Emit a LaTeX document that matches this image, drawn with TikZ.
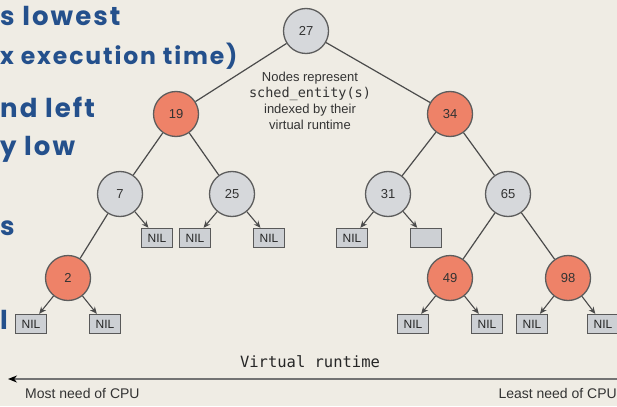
\documentclass[tikz,border=0pt]{standalone}
\usepackage{fontspec}
\setmainfont{Liberation Sans}
\newfontfamily\bluefont{Poppins}[LetterSpace=8]
\newfontfamily\monofont{DejaVu Sans Mono}
\usetikzlibrary{arrows.meta}
\definecolor{bgc}{RGB}{239,236,228}
\definecolor{bluetxt}{RGB}{36,80,140}
\definecolor{redn}{RGB}{238,130,104}
\definecolor{grayn}{RGB}{214,216,219}
\definecolor{edgec}{RGB}{75,75,75}
\definecolor{nilfill}{RGB}{205,208,212}
\tikzset{
  rb/.style={circle, minimum size=45pt, inner sep=0pt, line width=1.3pt, draw=edgec!90, font=\fontsize{13}{14}\selectfont, text=black!80},
  rednode/.style={rb, fill=redn},
  graynode/.style={rb, fill=grayn},
  nilbox/.style={rectangle, minimum width=31pt, minimum height=19pt, inner sep=0pt, fill=nilfill, draw=black!65, line width=1.3pt, font=\fontsize{12}{12}\selectfont, text=black!85},
  tree/.style={draw=edgec, line width=1.2pt},
  nilarrow/.style={draw=edgec, line width=1.1pt, -{Stealth[length=7pt,width=6pt]}},
  bluetext/.style={anchor=base west, inner sep=0pt, text=bluetxt},
}
\begin{document}
\begin{tikzpicture}[x=1pt,y=-1pt]
\useasboundingbox (0,0) rectangle (617,406);
\fill[bgc] (0,0) rectangle (617,406);
\clip (0,0) rectangle (617,406);

% left blue text
\node[bluetext, font=\bluefont\bfseries\fontsize{26}{30}\selectfont] (t1) at (0,26) {s lowest};
\node[bluetext, font=\bluefont\bfseries\fontsize{23.5}{26}\selectfont] (t2) at (0,65) {x execution time)};
\node[bluetext, font=\bluefont\bfseries\fontsize{26}{30}\selectfont] (t3) at (0,118) {nd left};
\node[bluetext, font=\bluefont\bfseries\fontsize{26}{30}\selectfont] (t4) at (0,155) {y low};
\node[bluetext, font=\bluefont\bfseries\fontsize{26}{30}\selectfont] (t5) at (0,235) {s};
\node[bluetext, font=\bluefont\bfseries\fontsize{26}{30}\selectfont] (t6) at (0,329) {l};

% tree nodes
\node[graynode] (n27) at (306,31) {27};
\node[rednode] (n19) at (176,114) {19};
\node[rednode] (n34) at (450,114) {34};
\node[graynode] (n7) at (120,194) {7};
\node[graynode] (n25) at (232,194) {25};
\node[graynode] (n31) at (388,194) {31};
\node[graynode] (n65) at (508,194) {65};
\node[rednode] (n2) at (68,278) {2};
\node[rednode] (n49) at (450,278) {49};
\node[rednode] (n98) at (568,278) {98};

% NIL boxes
\node[nilbox] (a1) at (157,238) {NIL};
\node[nilbox] (a2) at (195,238) {NIL};
\node[nilbox] (a3) at (269,238) {NIL};
\node[nilbox] (a4) at (352,238) {NIL};
\node[nilbox] (a5) at (426,238) {};
\node[nilbox] (b1) at (31,324) {NIL};
\node[nilbox] (b2) at (105,324) {NIL};
\node[nilbox] (b3) at (413,324) {NIL};
\node[nilbox] (b4) at (487,324) {NIL};
\node[nilbox] (b5) at (532,324) {NIL};
\node[nilbox] (b6) at (603,324) {NIL};

% tree edges
\path[tree] (n27) -- (n19);
\path[tree] (n27) -- (n34);
\path[tree] (n19) -- (n7);
\path[tree] (n19) -- (n25);
\path[tree] (n34) -- (n31);
\path[tree] (n34) -- (n65);
\path[tree] (n7) -- (n2);
\path[tree] (n65) -- (n49);
\path[tree] (n65) -- (n98);

% arrows to leaves
\path[nilarrow] (n7) -- (a1);
\path[nilarrow] (n25) -- (a2);
\path[nilarrow] (n25) -- (a3);
\path[nilarrow] (n31) -- (a4);
\path[nilarrow] (n31) -- (a5);
\path[nilarrow] (n2) -- (b1);
\path[nilarrow] (n2) -- (b2);
\path[nilarrow] (n49) -- (b3);
\path[nilarrow] (n49) -- (b4);
\path[nilarrow] (n98) -- (b5);
\path[nilarrow] (n98) -- (b6);

% caption
\node[align=center, inner sep=0pt, text=black!80, font=\fontsize{13}{16}\selectfont] (cap) at (310,101)
  {Nodes represent\\{\monofont\fontsize{13.5}{16}\selectfont sched\_entity(s)}\\indexed by their\\virtual runtime};

% axis
\node[inner sep=0pt, text=black!85, font=\monofont\fontsize{15.5}{16}\selectfont] (vr) at (310,362) {Virtual runtime};
\coordinate (axR) at (617,379);
\coordinate (axL) at (8,379);
\draw[draw=black!55, line width=2pt, -{Stealth[length=9pt,width=7pt,color=black]}] (axR) -- (axL);
\node[anchor=base west, inner sep=0pt, text=black!80, font=\fontsize{14}{16}\selectfont] (most) at (25,398) {Most need of CPU};
\node[anchor=base east, inner sep=0pt, text=black!80, font=\fontsize{14}{16}\selectfont] (least) at (617,398) {Least need of CPU};
\end{tikzpicture}
\end{document}
